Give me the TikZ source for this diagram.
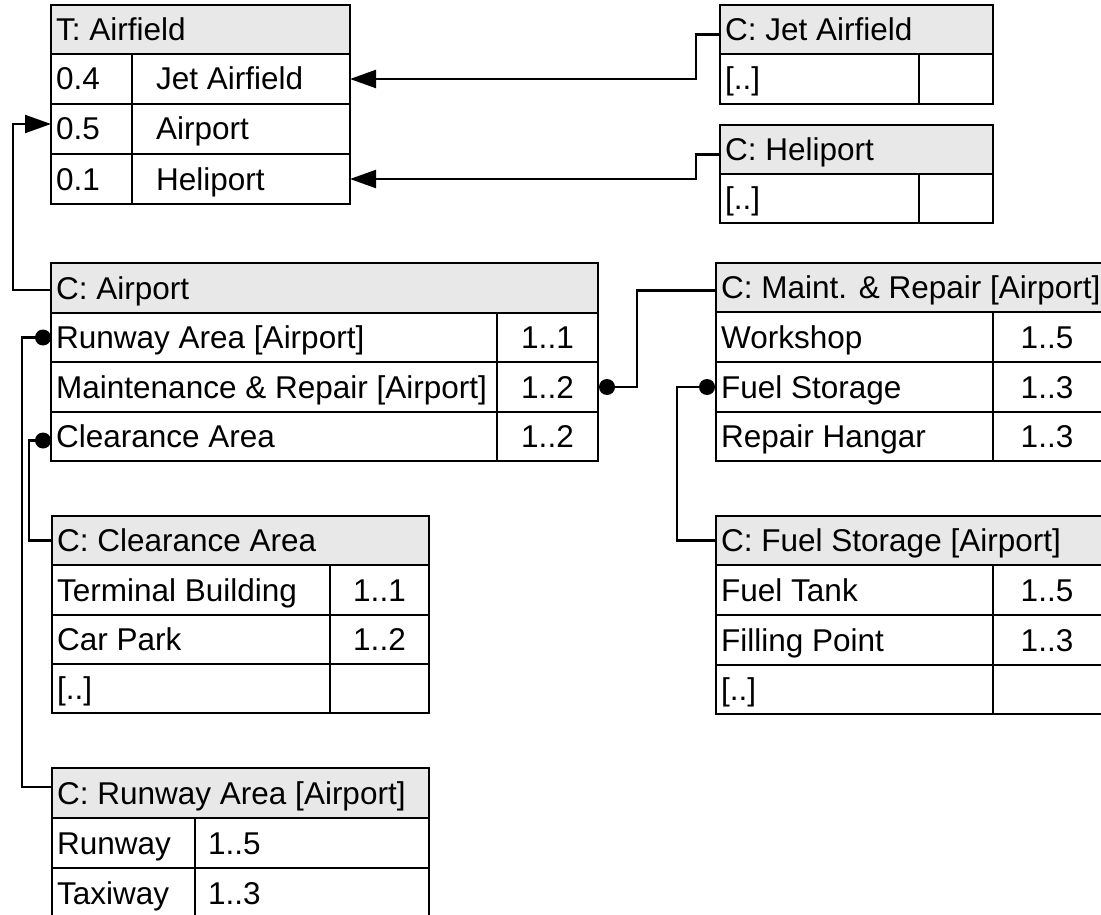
\documentclass[tikz,border=0pt]{standalone}
\usepackage{fontspec}
\setmainfont{Liberation Sans}
\usetikzlibrary{arrows.meta}
\definecolor{hdrgray}{RGB}{232,232,232}
\tikzset{
  cellst/.style={draw=black, line width=2.3pt, anchor=north west, inner sep=0pt, outer sep=0pt},
  hdrst/.style={cellst, fill=hdrgray},
  txt/.style={anchor=base west, inner sep=0pt, font=\fontsize{31.5pt}{36pt}\selectfont},
  num/.style={anchor=base, inner sep=0pt, font=\fontsize{31.5pt}{36pt}\selectfont},
  conn/.style={line width=2.2pt},
  arrowconn/.style={conn, -{Triangle[length=26pt,width=18pt]}},
  dotconn/.style={conn},
  dotst/.style={circle, fill=black, minimum size=16pt, inner sep=0pt, outer sep=0pt},
}
\newcommand\mkcell[6][cellst]{\node[#1, minimum width=#5pt, minimum height=#6pt] (#2) at (#3,#4) {};}
\begin{document}
\begin{tikzpicture}[x=1pt,y=-1pt]
\useasboundingbox (0,0) rectangle (1101,915);
% T: Airfield
\mkcell[hdrst]{Th}{51}{5}{299}{49}
\mkcell{T1a}{51}{54}{81}{50} \mkcell{T1b}{132}{54}{218}{50}
\mkcell{T2a}{51}{104}{81}{50} \mkcell{T2b}{132}{104}{218}{50}
\mkcell{T3a}{51}{154}{81}{50} \mkcell{T3b}{132}{154}{218}{50}
\node[txt] (tTh) at (56,40.5) {T: Airfield};
\node[txt] (tT1a) at (56,90) {0.4};
\node[txt] (tT1b) at (156,90) {Jet Airfield};
\node[txt] (tT2a) at (56,140) {0.5};
\node[txt] (tT2b) at (156,140) {Airport};
\node[txt] (tT3a) at (56,190) {0.1};
\node[txt] (tT3b) at (156,190) {Heliport};
% C: Jet Airfield
\mkcell[hdrst]{Jh}{720}{5}{273}{49}
\mkcell{J1a}{720}{54}{199}{50} \mkcell{J1b}{919}{54}{74}{50}
\node[txt] (tJh) at (725,40.5) {C: Jet Airfield};
\node[txt] (tJ1a) at (725,90) {[..]};
% C: Heliport
\mkcell[hdrst]{Hh}{720}{125}{273}{49}
\mkcell{H1a}{720}{174}{199}{49} \mkcell{H1b}{919}{174}{74}{49}
\node[txt] (tHh) at (725,160.5) {C: Heliport};
\node[txt] (tH1a) at (725,209.5) {[..]};
% C: Airport
\mkcell[hdrst]{Ah}{51}{263}{547}{50}
\mkcell{A1a}{51}{313}{446}{49} \mkcell{A1b}{497}{313}{101}{49}
\mkcell{A2a}{51}{362}{446}{50} \mkcell{A2b}{497}{362}{101}{50}
\mkcell{A3a}{51}{412}{446}{49} \mkcell{A3b}{497}{412}{101}{49}
\node[txt] (tAh) at (56,299) {C: Airport};
\node[txt] (tA1a) at (56,348.5) {Runway Area [Airport]};
\node[num] (tA1b) at (547.5,348.5) {1..1};
\node[txt] (tA2a) at (56,398) {Maintenance \& Repair [Airport]};
\node[num] (tA2b) at (547.5,398) {1..2};
\node[txt] (tA3a) at (56,447.5) {Clearance Area};
\node[num] (tA3b) at (547.5,447.5) {1..2};
% C: Maint. & Repair
\mkcell[hdrst]{Mh}{716}{263}{388}{49}
\mkcell{M1a}{716}{312}{277}{50} \mkcell{M1b}{993}{312}{111}{50}
\mkcell{M2a}{716}{362}{277}{50} \mkcell{M2b}{993}{362}{111}{50}
\mkcell{M3a}{716}{412}{277}{49} \mkcell{M3b}{993}{412}{111}{49}
\node[txt] (tMh) at (721,298.5) {C: Maint. \& Repair [Airport]};
\node[txt] (tM1a) at (721,348) {Workshop};
\node[num] (tM1b) at (1047,348) {1..5};
\node[txt] (tM2a) at (721,398) {Fuel Storage};
\node[num] (tM2b) at (1047,398) {1..3};
\node[txt] (tM3a) at (721,447.5) {Repair Hangar};
\node[num] (tM3b) at (1047,447.5) {1..3};
% C: Fuel Storage
\mkcell[hdrst]{Fh}{716}{516}{388}{49}
\mkcell{F1a}{716}{565}{277}{50} \mkcell{F1b}{993}{565}{111}{50}
\mkcell{F2a}{716}{615}{277}{50} \mkcell{F2b}{993}{615}{111}{50}
\mkcell{F3a}{716}{665}{277}{49} \mkcell{F3b}{993}{665}{111}{49}
\node[txt] (tFh) at (721,551.5) {C: Fuel Storage [Airport]};
\node[txt] (tF1a) at (721,601) {Fuel Tank};
\node[num] (tF1b) at (1047,601) {1..5};
\node[txt] (tF2a) at (721,651) {Filling Point};
\node[num] (tF2b) at (1047,651) {1..3};
\node[txt] (tF3a) at (721,700.5) {[..]};
% C: Clearance Area
\mkcell[hdrst]{Ch}{52}{516}{377}{49}
\mkcell{C1a}{52}{565}{278}{50} \mkcell{C1b}{330}{565}{99}{50}
\mkcell{C2a}{52}{615}{278}{49} \mkcell{C2b}{330}{615}{99}{49}
\mkcell{C3a}{52}{664}{278}{49} \mkcell{C3b}{330}{664}{99}{49}
\node[txt] (tCh) at (57,551.5) {C: Clearance Area};
\node[txt] (tC1a) at (57,601) {Terminal Building};
\node[num] (tC1b) at (379.5,601) {1..1};
\node[txt] (tC2a) at (57,650.5) {Car Park};
\node[num] (tC2b) at (379.5,650.5) {1..2};
\node[txt] (tC3a) at (57,699.5) {[..]};
% C: Runway Area
\mkcell[hdrst]{Rh}{52}{768}{377}{50}
\mkcell{R1a}{52}{818}{143}{50} \mkcell{R1b}{195}{818}{234}{50}
\mkcell{R2a}{52}{868}{143}{50} \mkcell{R2b}{195}{868}{234}{50}
\node[txt] (tRh) at (57,804) {C: Runway Area [Airport]};
\node[txt] (tR1a) at (57,854) {Runway};
\node[txt] (tR1b) at (208,854) {1..5};
\node[txt] (tR2a) at (57,904) {Taxiway};
\node[txt] (tR2b) at (208,904) {1..3};
% dots
\node[dotst] (dR) at ([xshift=-8pt]A1a.west) {};
\node[dotst] (dC) at ([xshift=-8pt,yshift=-4pt]A3a.west) {};
\node[dotst] (dM) at ([xshift=9pt]A2b.east) {};
\node[dotst] (dF) at ([xshift=-9pt]M2a.west) {};
% connectors
\draw[arrowconn] ([yshift=-5pt]Jh.west) -- ++(-24,0) |- (T1b.east);
\draw[arrowconn] ([yshift=-5pt]Hh.west) -- ++(-24,0) |- (T3b.east);
\draw[arrowconn] ([yshift=-2pt]Ah.west) -- ++(-38,0) |- ([yshift=5pt]T2a.west);
\draw[dotconn] (dR.center) -- (dR.center -| 22,0) |- ([yshift=6pt]Rh.west);
\draw[dotconn] (dC.center) -- (dC.center -| 29,0) |- (Ch.west);
\draw[dotconn] (dM.center) -- (dM.center -| 637,0) |- ([yshift=-3pt]Mh.west);
\draw[dotconn] (dF.center) -- (dF.center -| 677,0) |- (Fh.west);
\end{tikzpicture}
\end{document}
